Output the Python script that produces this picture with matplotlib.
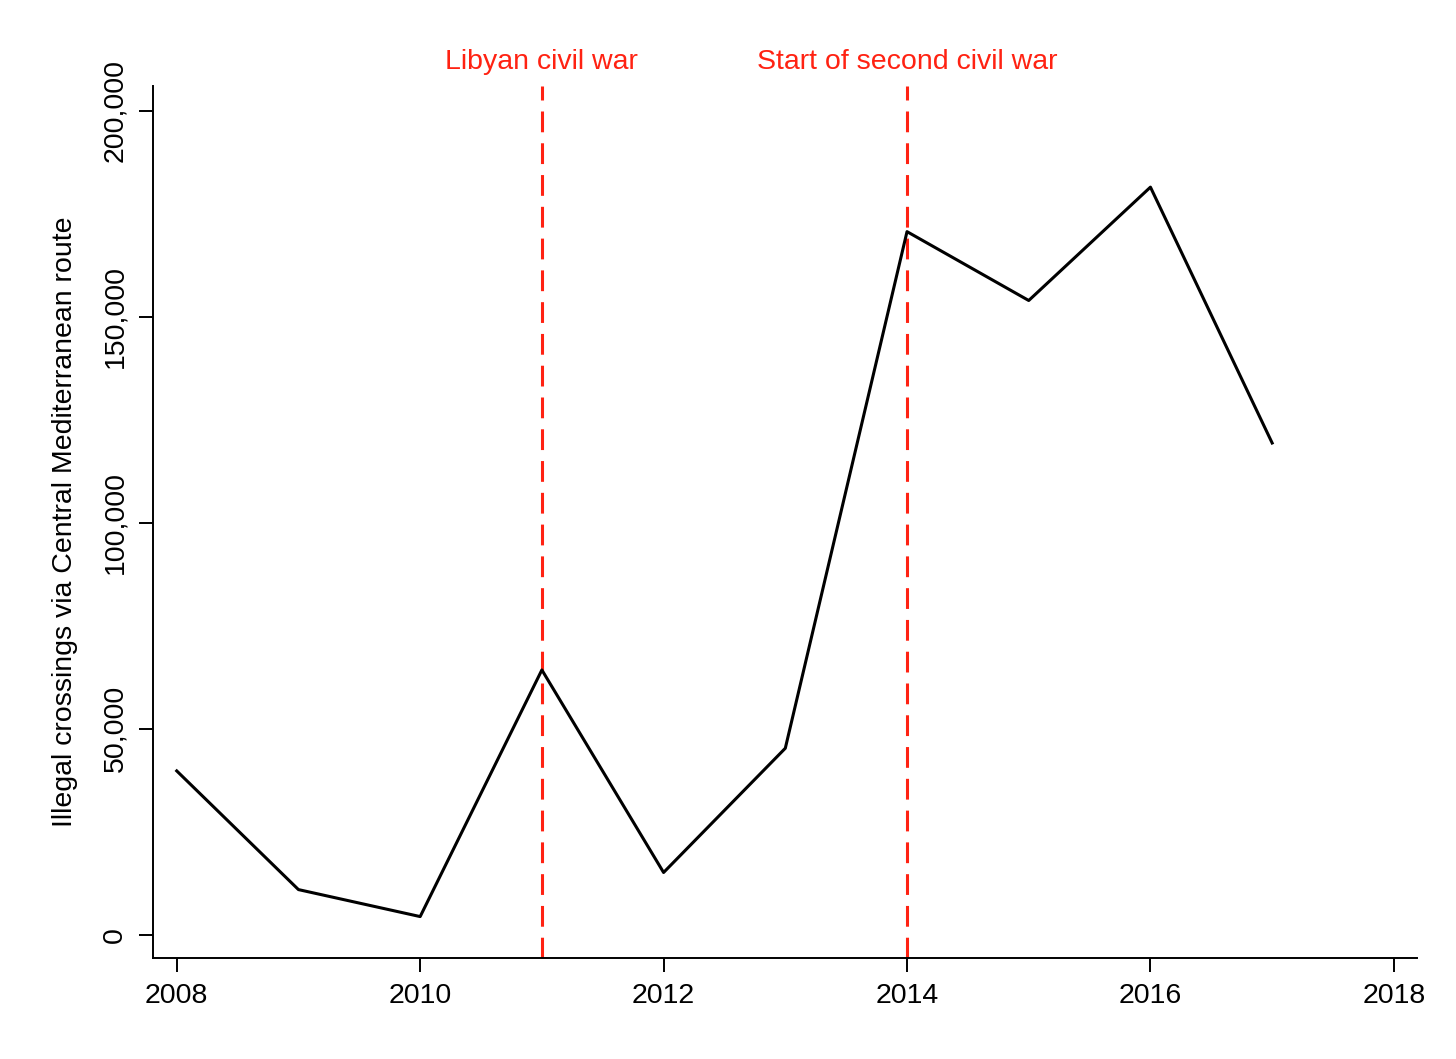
import matplotlib
matplotlib.use('Agg')
import matplotlib.pyplot as plt

years = [2008, 2009, 2010, 2011, 2012, 2013, 2014, 2015, 2016, 2017]
crossings = [39800, 11000, 4450, 64300, 15150, 45300, 170660, 153950, 181460, 119370]

event_years = [2011, 2014]
event_labels = ['Libyan civil war', 'Start of second civil war']

x_ticks = [2008, 2010, 2012, 2014, 2016, 2018]
y_ticks = [0, 50000, 100000, 150000, 200000]
y_ticklabels = ['0', '50,000', '100,000', '150,000', '200,000']

red = '#ff2212'

plt.rc('font', **{'size': 20.5, 'family': ['Liberation Sans', 'DejaVu Sans']})
fig = plt.figure(figsize=(14.56, 10.59), dpi=100)
ax = fig.add_axes([153 / 1456, 1 - 958 / 1059, (1417 - 153) / 1456, (958 - 86) / 1059])

ax.plot(years, crossings, color='black', linewidth=2.2, zorder=3)

for yr, lab in zip(event_years, event_labels):
    ax.axvline(yr, color=red, linewidth=2.2, linestyle=(0, (6.8, 3.6)), zorder=2)
    ax.text(yr, 1.027, lab, transform=ax.get_xaxis_transform(), color=red,
            ha='center', va='center', fontsize=20.5, clip_on=False)

ax.set_xlim(2007.805, 2018.19)
ax.set_ylim(-5600, 206000)

ax.set_xticks(x_ticks)
ax.set_xticklabels([str(x) for x in x_ticks])
ax.set_yticks(y_ticks)
ax.set_yticklabels(y_ticklabels, rotation=90, va='center')

ax.tick_params(direction='out', length=10, width=1.4, pad=8)
ax.set_ylabel('Illegal crossings via Central Mediterranean route', labelpad=17)

ax.spines['top'].set_color('none')
ax.spines['right'].set_color('none')
ax.spines['left'].set_linewidth(1.4)
ax.spines['bottom'].set_linewidth(1.4)

fig.savefig('out.png', dpi=100)
